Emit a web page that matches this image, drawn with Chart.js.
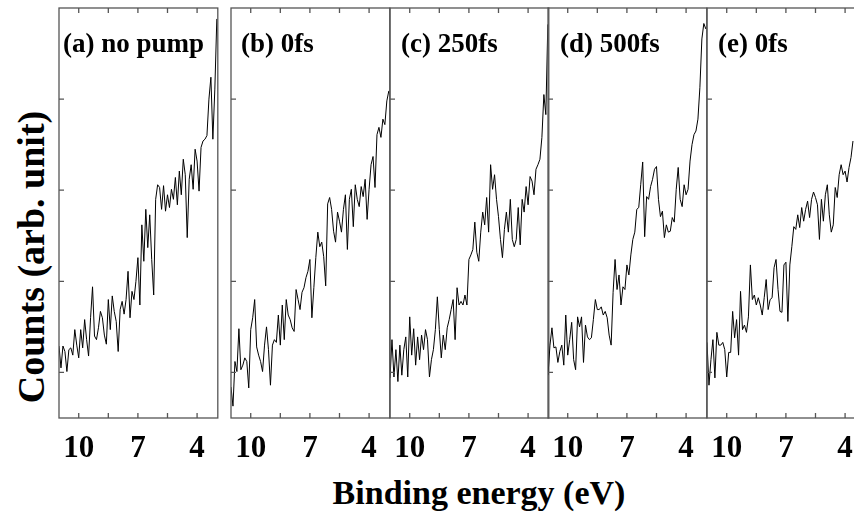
<!DOCTYPE html>
<html>
<head>
<meta charset="utf-8">
<script src="https://cdn.jsdelivr.net/npm/chart.js@4.4.1/dist/chart.umd.min.js"></script>
<style>
  html, body { margin: 0; padding: 0; background: #fff; }
  #wrap { position: relative; width: 854px; height: 512px; overflow: hidden; background: #fff; }
  canvas { position: absolute; top: 0; }
  .txt { position: absolute; font-family: 'Liberation Serif', 'Times New Roman', serif; font-weight: bold; color: #000; line-height: 1; white-space: nowrap; }
</style>
</head>
<body>
<div id="wrap"></div>
<script>
// binding energy (eV), shared by all panels
const energies = [11.0, 10.9, 10.8, 10.7, 10.6, 10.5, 10.4, 10.3, 10.2, 10.1,
    10.0, 9.9, 9.8, 9.7, 9.6, 9.5, 9.4, 9.3, 9.2, 9.1,
    9.0, 8.9, 8.8, 8.7, 8.6, 8.5, 8.4, 8.3, 8.2, 8.1,
    8.0, 7.9, 7.8, 7.7, 7.6, 7.5, 7.4, 7.3, 7.2, 7.1,
    7.0, 6.9, 6.8, 6.7, 6.6, 6.5, 6.4, 6.3, 6.2, 6.1,
    6.0, 5.9, 5.8, 5.7, 5.6, 5.5, 5.4, 5.3, 5.2, 5.1,
    5.0, 4.9, 4.8, 4.7, 4.6, 4.5, 4.4, 4.3, 4.2, 4.1,
    4.0, 3.9, 3.8, 3.7, 3.6, 3.5, 3.4, 3.3, 3.2, 3.1, 3.0];

const noPump = [79, 55, 79, 73, 51, 75, 77, 69, 97, 80, 66, 97, 77, 108, 86, 68, 110, 144, 90, 86,
    99, 117, 110, 91, 81, 130, 97, 134, 117, 106, 73, 119, 128, 114, 130, 161, 110, 139, 130, 150,
    176, 124, 212, 172, 229, 187, 223, 174, 135, 240, 256, 253, 229, 255, 227, 245, 231, 251, 240, 264,
    234, 271, 245, 284, 267, 198, 262, 278, 251, 295, 282, 249, 297, 304, 306, 310, 350, 374, 306, 361, 438];
const delay0 = [34, 13, 62, 51, 98, 53, 58, 66, 62, 33, 97, 110, 130, 78, 69, 62, 51, 80, 100, 75,
    36, 80, 86, 83, 113, 80, 124, 86, 130, 113, 108, 99, 95, 141, 130, 119, 138, 143, 154, 161,
    174, 110, 143, 176, 204, 188, 193, 177, 145, 235, 242, 229, 205, 193, 226, 216, 204, 229, 245, 185,
    240, 251, 210, 256, 240, 232, 254, 243, 262, 218, 251, 278, 287, 253, 311, 319, 308, 328, 322, 348, 359];
const delay250 = [44, 86, 45, 75, 40, 80, 47, 75, 89, 45, 111, 69, 98, 58, 89, 64, 91, 75, 97, 86,
    45, 64, 75, 97, 133, 97, 66, 91, 75, 99, 108, 119, 130, 86, 143, 124, 128, 124, 135, 124,
    174, 179, 185, 215, 182, 172, 204, 226, 212, 242, 204, 278, 251, 267, 240, 221, 196, 176, 207, 226,
    204, 240, 196, 188, 196, 231, 190, 240, 226, 254, 234, 265, 260, 245, 273, 278, 284, 308, 355, 333, 432];
const delay500 = [47, 80, 99, 77, 78, 61, 73, 80, 58, 113, 69, 86, 105, 64, 53, 111, 100, 111, 61, 102,
    89, 86, 88, 108, 130, 119, 119, 122, 113, 117, 110, 91, 80, 138, 174, 141, 157, 124, 144, 141,
    168, 157, 179, 196, 204, 229, 231, 256, 281, 199, 243, 240, 254, 262, 273, 276, 240, 221, 227, 198,
    212, 204, 205, 220, 215, 251, 275, 240, 232, 256, 245, 251, 282, 300, 311, 315, 328, 363, 416, 433, 427];
const delay0b = [83, 36, 64, 86, 44, 94, 80, 80, 83, 75, 45, 72, 72, 117, 88, 108, 69, 139, 97, 102,
    94, 111, 168, 130, 135, 124, 132, 124, 113, 132, 152, 119, 130, 132, 165, 174, 141, 117, 116, 168,
    171, 106, 168, 188, 210, 207, 223, 209, 231, 216, 229, 238, 220, 240, 248, 242, 234, 196, 240, 216,
    245, 256, 223, 204, 212, 253, 242, 267, 278, 267, 271, 259, 275, 286, 304];

const panelNames = ['(a) no pump', '(b) 0fs', '(c) 250fs', '(d) 500fs', '(e) 0fs'];
const series = [noPump, delay0, delay250, delay500, delay0b];
const xTicks = [10, 8.5, 7, 5.5, 4];
const xLabels = [10, 7, 4];
const yTicks = [50, 150, 250, 350];

const panelLeft = [58.5, 231, 389.5, 548, 706.5];
const labelLeft = [63, 241, 401, 560, 718];
const panelW = 158.8;
const pad = 4;

// frame + inward ticks, drawn from the chart's own scales
const framePlugin = {
    id: 'frame',
    afterDraw(chart) {
        const { ctx, chartArea: a, scales } = chart;
        ctx.save();
        ctx.strokeStyle = '#555';
        ctx.lineWidth = 1.3;
        ctx.strokeRect(a.left, a.top, a.right - a.left, a.bottom - a.top);
        ctx.beginPath();
        xTicks.forEach(v => {
            const x = scales.x.getPixelForValue(v);
            ctx.moveTo(x, a.bottom); ctx.lineTo(x, a.bottom - 5);
            ctx.moveTo(x, a.top); ctx.lineTo(x, a.top + 5);
        });
        yTicks.forEach(v => {
            const y = scales.y.getPixelForValue(v);
            ctx.moveTo(a.left, y); ctx.lineTo(a.left + 5, y);
        });
        ctx.stroke();
        ctx.restore();
    }
};

const wrap = document.getElementById('wrap');

series.forEach((values, idx) => {
    const canvas = document.createElement('canvas');
    canvas.width = Math.ceil(panelW + 2 * pad);
    canvas.height = 470;
    canvas.style.left = (panelLeft[idx] - pad) + 'px';
    wrap.appendChild(canvas);

    new Chart(canvas.getContext('2d'), {
        type: 'line',
        data: {
            datasets: [{
                data: values.map((v, i) => ({ x: energies[i], y: v })),
                borderColor: '#000',
                borderWidth: 1,
                pointRadius: 0,
                tension: 0,
                fill: false
            }]
        },
        options: {
            responsive: false,
            animation: false,
            devicePixelRatio: 1,
            layout: { padding: { top: 8, left: pad, right: canvas.width - panelW - pad, bottom: 0 } },
            plugins: { legend: { display: false }, tooltip: { enabled: false } },
            scales: {
                x: {
                    type: 'linear',
                    min: 2.95,
                    max: 11,
                    reverse: true,
                    afterBuildTicks: s => { s.ticks = xTicks.map(v => ({ value: v })); },
                    afterFit: s => {
                        s.height = 52;
                        s.paddingLeft = 0;
                        s.paddingRight = 0;
                    },
                    border: { display: false },
                    grid: { display: false, drawTicks: false },
                    ticks: {
                        autoSkip: false,
                        maxRotation: 0,
                        padding: 12,
                        color: '#000',
                        font: { family: 'Liberation Serif', weight: 'bold', size: 31 },
                        callback: v => xLabels.includes(v) ? String(v) : ''
                    }
                },
                y: {
                    min: 0,
                    max: 450,
                    display: false
                }
            }
        },
        plugins: [framePlugin]
    });

    const lab = document.createElement('div');
    lab.className = 'txt';
    lab.style.fontSize = '27px';
    lab.style.left = labelLeft[idx] + 'px';
    lab.style.top = '30.4px';
    lab.textContent = panelNames[idx];
    wrap.appendChild(lab);
});

const xTitle = document.createElement('div');
xTitle.className = 'txt';
xTitle.style.fontSize = '34px';
xTitle.style.left = '479px';
xTitle.style.top = '475.5px';
xTitle.style.transform = 'translateX(-50%)';
xTitle.textContent = 'Binding energy (eV)';
wrap.appendChild(xTitle);

const yTitle = document.createElement('div');
yTitle.className = 'txt';
yTitle.style.fontSize = '38px';
yTitle.style.left = '30.5px';
yTitle.style.top = '256.7px';
yTitle.style.transform = 'translate(-50%, -50%) rotate(-90deg)';
yTitle.textContent = 'Counts (arb. unit)';
wrap.appendChild(yTitle);
</script>
</body>
</html>
